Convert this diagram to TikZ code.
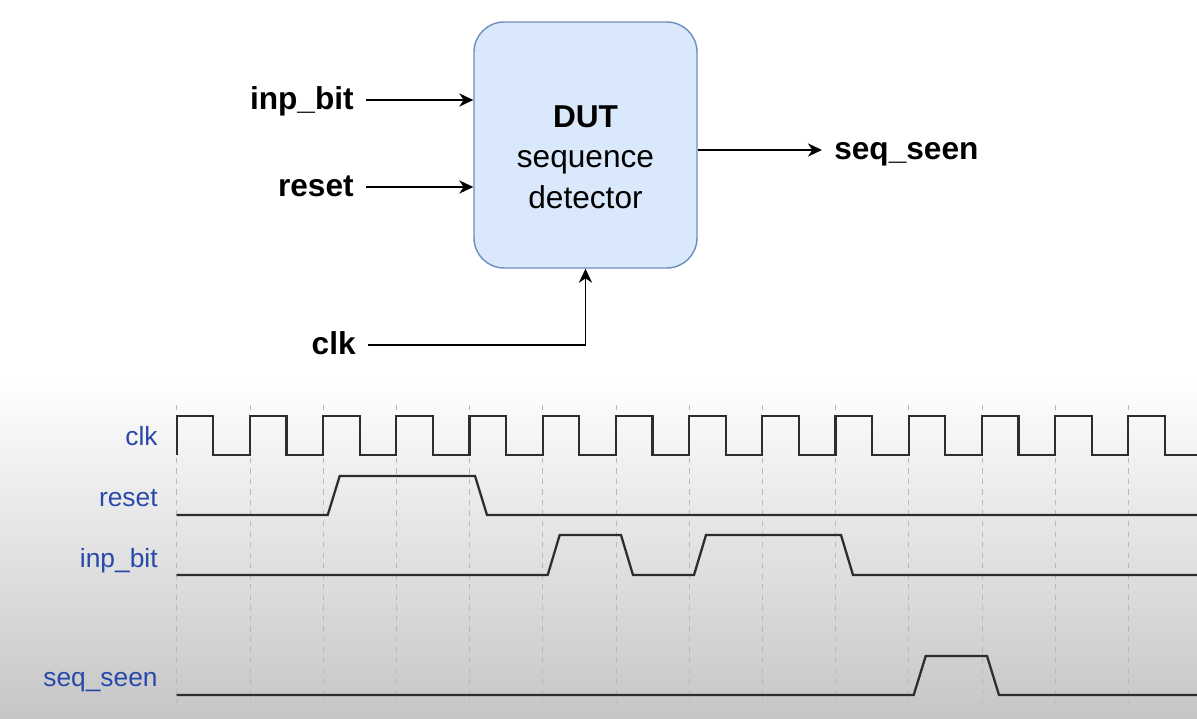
\documentclass[tikz,border=0pt]{standalone}
\usepackage{fontspec}
\setmainfont{Liberation Sans}
\usetikzlibrary{arrows.meta,positioning}
\definecolor{dutfill}{RGB}{218,232,252}
\definecolor{dutline}{RGB}{108,142,191}
\definecolor{wavelbl}{RGB}{40,72,170}
\definecolor{wavecol}{RGB}{45,45,45}
\definecolor{bggray}{RGB}{198,198,198}
\begin{document}
\begin{tikzpicture}[x=0.02cm,y=-0.02cm,
  dut/.style={draw=dutline,fill=dutfill,line width=0.8pt,rounded corners=0.6cm,
    minimum width=4.46cm,minimum height=4.92cm},
  port/.style={font=\fontsize{18}{22}\selectfont\bfseries,text height=15pt,
    text depth=4pt,inner xsep=6.8pt,inner ysep=0pt},
  conn/.style={line width=1pt,-{Stealth[length=8pt,width=7.5pt,inset=2.5pt]}},
  wname/.style={font=\fontsize{15}{18}\selectfont,text=wavelbl,inner sep=0pt,anchor=base east},
  wave/.style={draw=wavecol,line width=1.3pt},
  gridline/.style={gray!55,dash pattern=on 3pt off 3pt,line width=0.4pt}]
\useasboundingbox (0,0) rectangle (1197,719);
%\draw [help lines,step=1cm] (0,0) grid (1197,719);
\shade [top color=white,bottom color=bggray] (0,375) rectangle (1197,719);

\node [dut] (dut) at (585.5,145) {};
\node [align=center,font=\fontsize{18}{23}\selectfont,inner sep=0pt] (dutname)
  at ([yshift=-0.24cm]dut.center) {\textbf{DUT}\\sequence\\detector};

\node [port,anchor=east] (inp) at (366,100) {inp\_bit};
\node [port,anchor=east] (rst) at (366,187) {reset};
\node [port,anchor=east] (clk) at (368,345) {clk};
\node [port,anchor=west] (seq) at (822,150) {seq\_seen};

\draw [conn] (inp) -- (inp -| dut.west);
\draw [conn] (rst) -- (rst -| dut.west);
\draw [conn] (clk) -| (dut.south);
\draw [conn] (dut.east |- seq) -- (seq);

\node [wname] (wclk) at (158,446) {clk};
\node [wname] (wrst) at (158,506) {reset};
\node [wname] (winp) at (158,567) {inp\_bit};
\node [wname] (wseq) at (158,686) {seq\_seen};

\foreach \k in {0,...,13}
  \draw [gridline] (176.7+73.2*\k,405) -- (176.7+73.2*\k,703);

\draw [wave] (176.7,455) \foreach \k in {0,...,13} {-- ++(0,-39) -- ++(36.6,0) -- ++(0,39) -- ++(36.6,0)};
\draw [wave] (176.7,515) -- (327.7,515) -- (339.7,476) -- (475,476) -- (487,515) -- (1197,515);
\draw [wave] (176.7,575) -- (547.7,575) -- (559.7,535) -- (621,535) -- (633,575)
  -- (694,575) -- (706,535) -- (841,535) -- (853,575) -- (1197,575);
\draw [wave] (176.7,695) -- (913.7,695) -- (925.7,656) -- (987,656) -- (999,695) -- (1197,695);
\end{tikzpicture}
\end{document}
